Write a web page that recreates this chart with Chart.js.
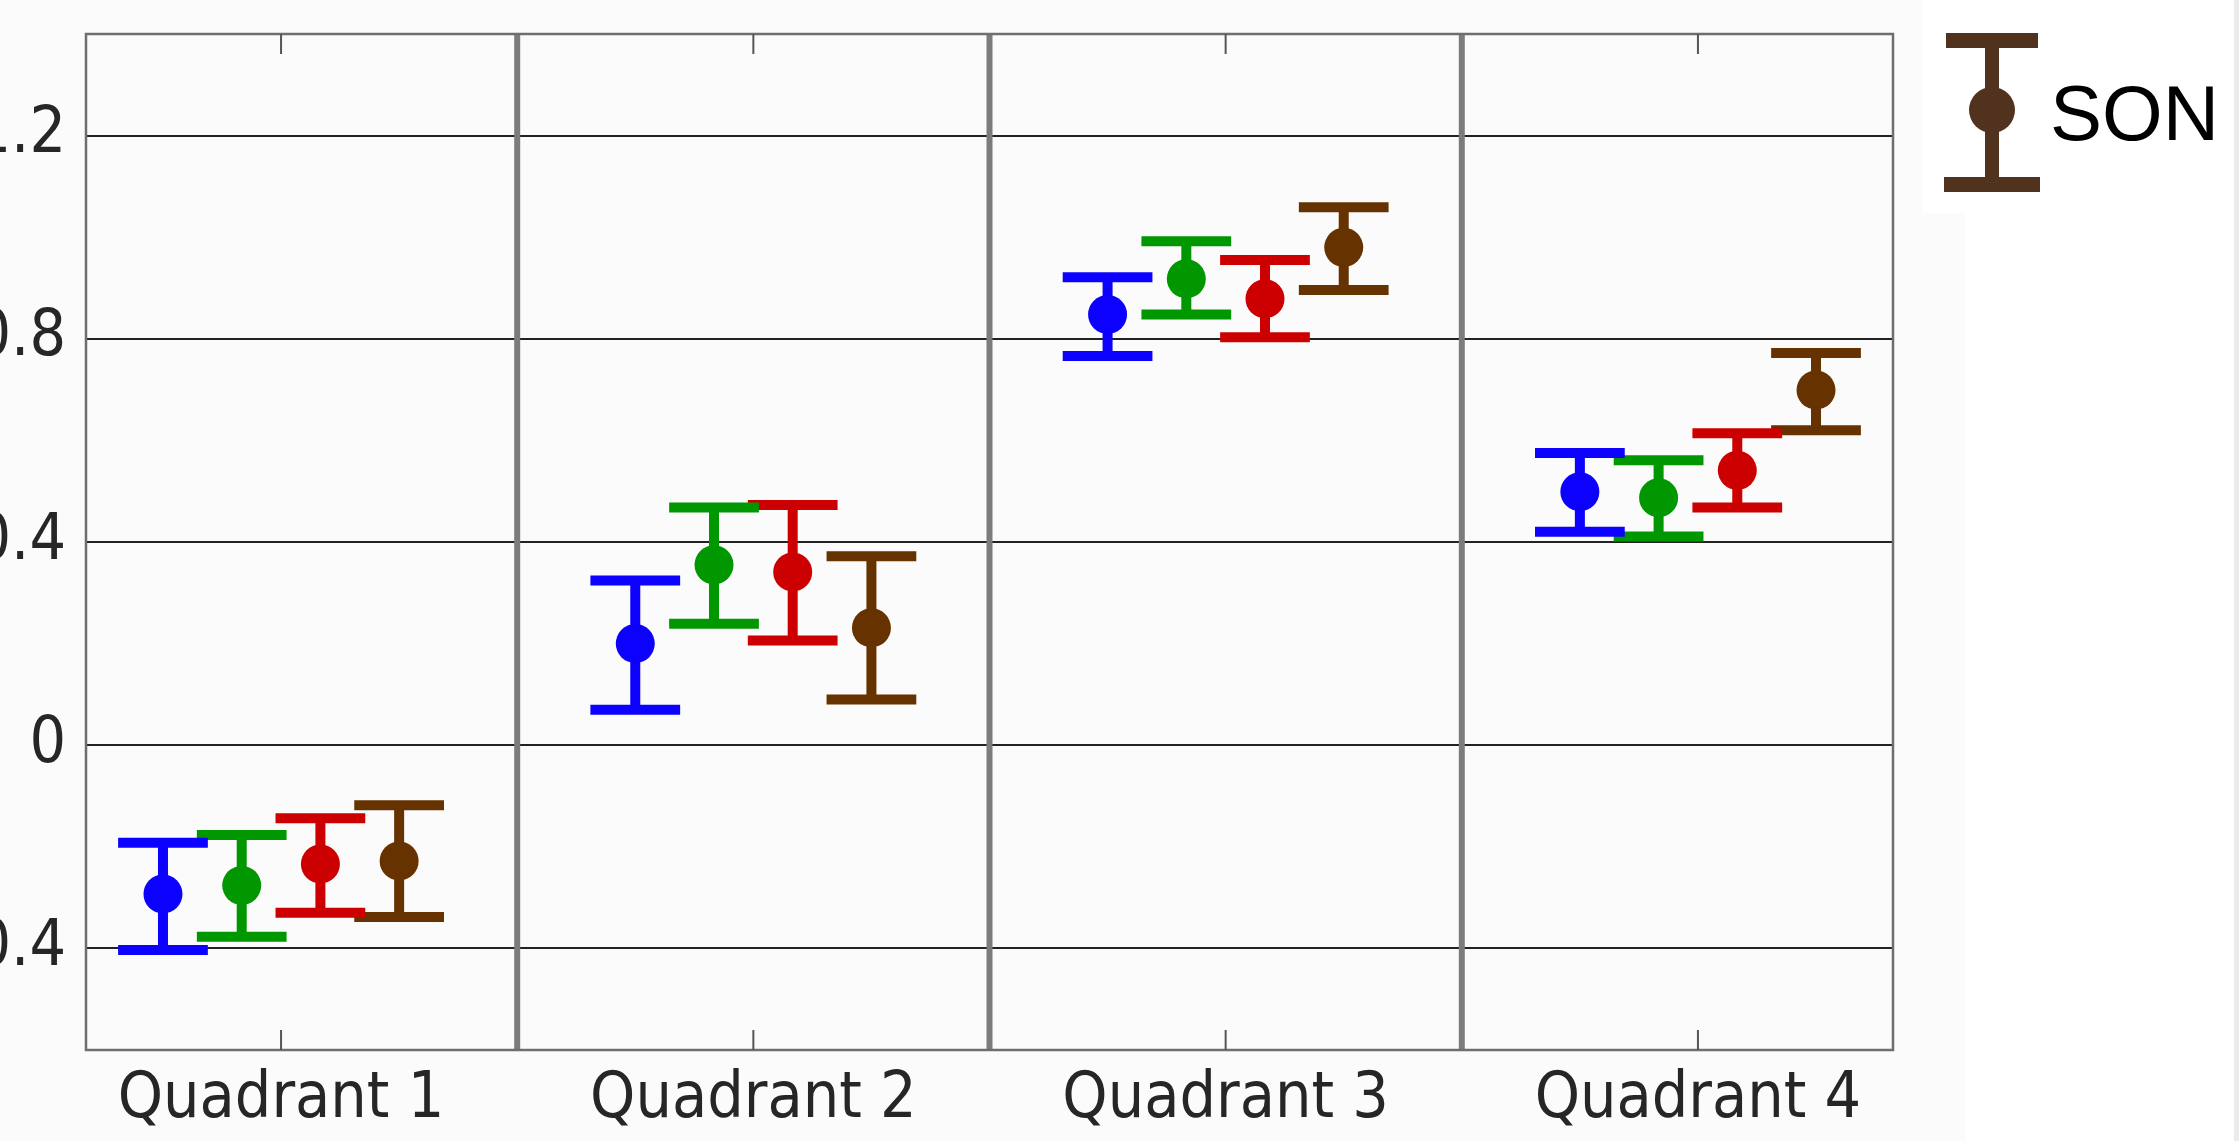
<!DOCTYPE html>
<html>
<head>
<meta charset="utf-8">
<script src="https://cdn.jsdelivr.net/npm/chart.js@4/dist/chart.umd.min.js"></script>
<style>
  html, body { margin: 0; padding: 0; background: #fbfbfb; overflow: hidden; }
  #wrap { position: relative; width: 2239px; height: 1141px; }
  #side { position: absolute; left: 1965px; top: 0; width: 269px; height: 1141px; background: #ffffff; }
  #legendBg { position: absolute; left: 1923px; top: 0; width: 42px; height: 213px; background: #ffffff; }
  #edge { position: absolute; left: 2234px; top: 0; width: 5px; height: 1141px; background: #ebebeb; }
  canvas { position: absolute; left: 0; top: 0; }
</style>
</head>
<body>
<div id="wrap">
  <div id="side"></div>
  <div id="legendBg"></div>
  <div id="edge"></div>
  <canvas id="chart" width="2239" height="1141"></canvas>
</div>
<script>
// Categories along the x axis (placed at 1, 2, 3, 4)
const categories = ['Quadrant 1', 'Quadrant 2', 'Quadrant 3', 'Quadrant 4'];
const yTicks = [-0.4, 0, 0.4, 0.8, 1.2];
const dividers = [1.5, 2.5, 3.5];

// Seasonal means with lower / upper error-bar ends, one value per quadrant
const djfMean = [-0.293, 0.200, 0.848, 0.499];
const djfLow  = [-0.403, 0.070, 0.766, 0.420];
const djfHigh = [-0.192, 0.324, 0.921, 0.575];

const mamMean = [-0.276, 0.355, 0.918, 0.487];
const mamLow  = [-0.377, 0.239, 0.848, 0.411];
const mamHigh = [-0.177, 0.468, 0.992, 0.561];

const jjaMean = [-0.234, 0.341, 0.879, 0.541];
const jjaLow  = [-0.330, 0.206, 0.803, 0.468];
const jjaHigh = [-0.144, 0.473, 0.955, 0.614];

const sonMean = [-0.228, 0.231, 0.980, 0.699];
const sonLow  = [-0.338, 0.090, 0.896, 0.620];
const sonHigh = [-0.118, 0.372, 1.059, 0.772];

const seasonNames = ['DJF', 'MAM', 'JJA', 'SON'];
const seasonColors = ['#0c00ff', '#009700', '#cc0000', '#663300'];
const seasonOffsets = [-0.25, -0.0833, 0.0833, 0.25];
const means = [djfMean, mamMean, jjaMean, sonMean];
const lows = [djfLow, mamLow, jjaLow, sonLow];
const highs = [djfHigh, mamHigh, jjaHigh, sonHigh];

const CAP_HALF = 0.095;   // half cap width in x units
const BAR_WIDTH = 10;

const datasets = seasonNames.map((name, s) => ({
  label: name,
  data: means[s].map((v, i) => ({ x: i + 1 + seasonOffsets[s], y: v })),
  errLow: lows[s],
  errHigh: highs[s],
  backgroundColor: seasonColors[s],
  borderColor: seasonColors[s],
  pointRadius: 19.5,
  pointBorderWidth: 0,
  pointHoverRadius: 19.5,
  showLine: false
}));

// Error bars (stem + caps), drawn just before each series' markers
const errorBars = {
  id: 'errorBars',
  beforeDatasetDraw(chart, args) {
    const ds = chart.data.datasets[args.index];
    const xs = chart.scales.x, ys = chart.scales.y;
    const ctx = chart.ctx;
    ctx.save();
    ctx.strokeStyle = ds.borderColor;
    ctx.lineWidth = BAR_WIDTH;
    ctx.lineCap = 'butt';
    ds.data.forEach((p, i) => {
      const x = xs.getPixelForValue(p.x);
      const half = xs.getPixelForValue(p.x + CAP_HALF) - x;
      const yLo = ys.getPixelForValue(ds.errLow[i]);
      const yHi = ys.getPixelForValue(ds.errHigh[i]);
      ctx.beginPath();
      ctx.moveTo(x, yHi); ctx.lineTo(x, yLo);
      ctx.moveTo(x - half, yHi); ctx.lineTo(x + half, yHi);
      ctx.moveTo(x - half, yLo); ctx.lineTo(x + half, yLo);
      ctx.stroke();
    });
    ctx.restore();
  }
};

// Axes box, quadrant dividers and x tick marks
const frame = {
  id: 'frame',
  beforeDatasetsDraw(chart) {
    const { ctx, chartArea: a, scales: { x } } = chart;
    ctx.save();
    ctx.strokeStyle = '#7c7c7c';
    ctx.lineWidth = 6;
    dividers.forEach(d => {
      const px = x.getPixelForValue(d);
      ctx.beginPath(); ctx.moveTo(px, a.top); ctx.lineTo(px, a.bottom); ctx.stroke();
    });
    ctx.strokeStyle = '#6e6e6e';
    ctx.lineWidth = 2.5;
    ctx.strokeRect(a.left, a.top, a.right - a.left, a.bottom - a.top);
    ctx.lineWidth = 2;
    ctx.strokeStyle = '#555555';
    x.ticks.forEach(t => {
      const px = x.getPixelForValue(t.value);
      ctx.beginPath();
      ctx.moveTo(px, a.bottom); ctx.lineTo(px, a.bottom - 20);
      ctx.moveTo(px, a.top); ctx.lineTo(px, a.top + 20);
      ctx.stroke();
    });
    ctx.restore();
  }
};

// Legend entry for the last season, with its error-bar symbol
const seasonLegend = {
  id: 'seasonLegend',
  afterDraw(chart) {
    const { ctx, chartArea: a } = chart;
    const cx = a.right + 99;
    const col = '#50321f';
    ctx.save();
    ctx.fillStyle = col;
    ctx.fillRect(cx - 46, 33, 92, 15);
    ctx.fillRect(cx - 48, 177, 96, 15);
    ctx.fillRect(cx - 7, 40, 14, 145);
    ctx.beginPath();
    ctx.arc(cx, 110, 23, 0, Math.PI * 2);
    ctx.fill();
    ctx.fillStyle = '#000000';
    ctx.font = '78px "Liberation Sans", Arial, sans-serif';
    ctx.textBaseline = 'alphabetic';
    ctx.textAlign = 'left';
    ctx.fillText(seasonNames[3], cx + 58, 140);
    ctx.restore();
  }
};

const tickFont = { family: '"DejaVu Sans Condensed", "DejaVu Sans", sans-serif', size: 64 };

function noEdgePadding(scale) {
  scale.paddingTop = 0; scale.paddingBottom = 0;
  scale.paddingLeft = 0; scale.paddingRight = 0;
}

new Chart(document.getElementById('chart'), {
  type: 'scatter',
  data: { datasets },
  plugins: [frame, errorBars, seasonLegend],
  options: {
    responsive: false,
    devicePixelRatio: 1,
    animation: false,
    events: [],
    layout: { padding: { top: 34, right: 346, left: 0, bottom: 0 } },
    plugins: { legend: { display: false }, tooltip: { enabled: false } },
    scales: {
      x: {
        type: 'linear',
        min: 0.587,
        max: 4.413,
        afterBuildTicks(scale) { scale.ticks = categories.map((c, i) => ({ value: i + 1 })); },
        afterFit(scale) { scale.height = 91; noEdgePadding(scale); },
        grid: { display: false, drawTicks: false },
        border: { display: false },
        ticks: {
          padding: 12,
          color: '#262626',
          font: tickFont,
          maxRotation: 0,
          autoSkip: false,
          callback: (v) => categories[Math.round(v) - 1]
        }
      },
      y: {
        type: 'linear',
        min: -0.6,
        max: 1.4,
        afterBuildTicks(scale) { scale.ticks = yTicks.map(v => ({ value: v })); },
        afterFit(scale) { scale.width = 86; noEdgePadding(scale); },
        grid: { color: '#222222', lineWidth: 2, drawTicks: false },
        border: { display: false },
        ticks: {
          padding: 20,
          color: '#262626',
          font: tickFont,
          autoSkip: false,
          callback: (v) => String(Math.round(v * 10) / 10)
        }
      }
    }
  }
});
</script>
</body>
</html>
